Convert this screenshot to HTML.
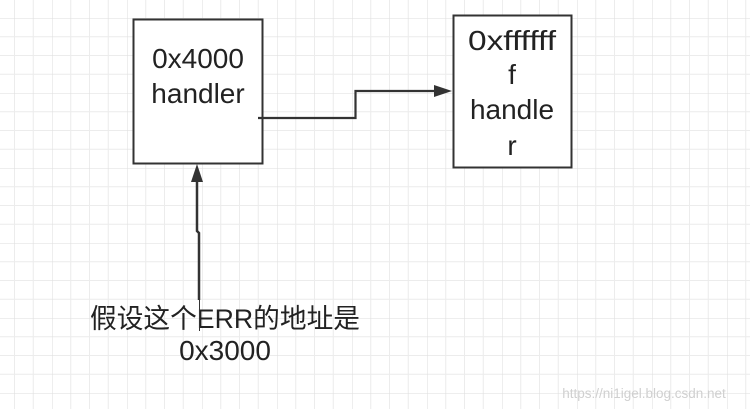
<!DOCTYPE html>
<html><head><meta charset="utf-8"><style>
body{margin:0;width:750px;height:409px;overflow:hidden;background:#fff}
svg{display:block}
text{font-family:"Liberation Sans","Noto Sans CJK SC",sans-serif;fill:#222}
</style></head><body>
<svg width="750" height="409" xmlns="http://www.w3.org/2000/svg">
<defs>
<pattern id="g" x="52" y="18" width="75" height="75" patternUnits="userSpaceOnUse">
<path d="M18.75 0V75M37.5 0V75M56.25 0V75M0 18.75H75M0 37.5H75M0 56.25H75" stroke="#ececec" stroke-width="1" fill="none"/>
<path d="M0 0V75M0 0H75" stroke="#dedede" stroke-width="1" fill="none"/>
</pattern>
</defs>
<rect width="750" height="409" fill="url(#g)"/>
<rect x="133.5" y="19.5" width="129" height="144" fill="#fff" stroke="#333" stroke-width="2"/>
<rect x="453.5" y="15.5" width="118" height="152" fill="#fff" stroke="#333" stroke-width="2"/>
<text x="198" y="68" font-size="28" text-anchor="middle">0x4000</text>
<text x="198" y="103" font-size="28" text-anchor="middle">handler</text>
<text x="512" y="50" font-size="28" text-anchor="middle" textLength="88" lengthAdjust="spacingAndGlyphs">0xffffff</text>
<text x="512" y="84" font-size="28" text-anchor="middle">f</text>
<text x="512" y="119" font-size="28" text-anchor="middle">handle</text>
<text x="512" y="155" font-size="28" text-anchor="middle">r</text>
<path d="M258 118H355.5V91H440" stroke="#333" stroke-width="2.2" fill="none"/>
<path d="M452 91L434 85V97Z" fill="#333"/>
<path d="M197 178V231L199 233V300" stroke="#333" stroke-width="2.5" fill="none"/>
<path d="M197 164L191 182H203Z" fill="#333"/>
<text x="225" y="328" font-size="27" text-anchor="middle" textLength="270" lengthAdjust="spacingAndGlyphs">假设这个ERR的地址是</text>
<line x1="199.5" y1="300" x2="199.5" y2="331" stroke="#333" stroke-width="1"/>
<text x="225" y="360" font-size="28" text-anchor="middle">0x3000</text>
<text x="644" y="398" font-size="13.5" text-anchor="middle" style="fill:#d0d0d0">https://ni1igel.blog.csdn.net</text>
</svg>
</body></html>
